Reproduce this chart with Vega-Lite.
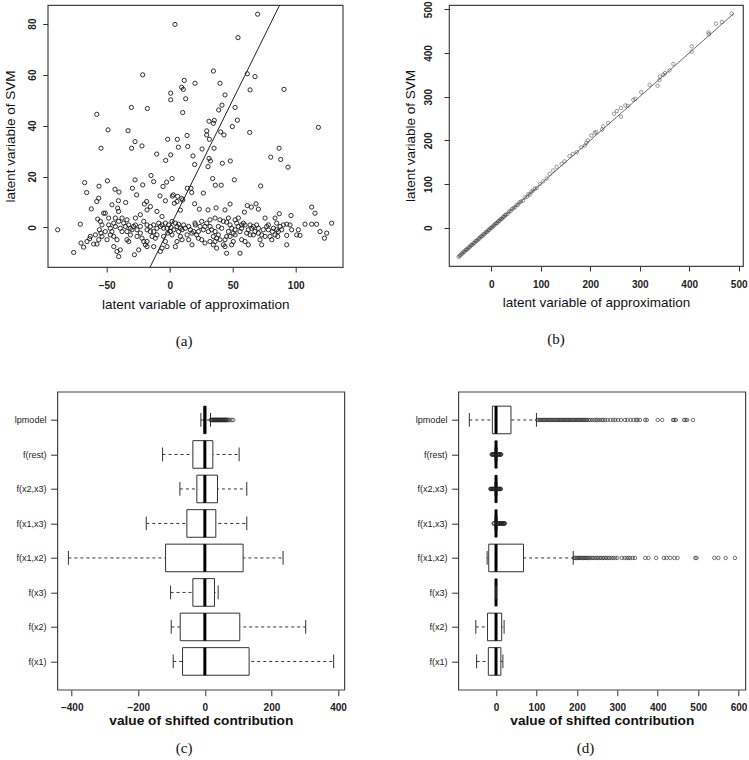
{
 "$schema": "https://vega.github.io/schema/vega-lite/v6.json",
 "autosize": {"type": "none"},
 "padding": {"left": 47.7, "top": 5, "right": 701.3, "bottom": 755},
 "background": "white",
 "config": {
  "font": "Liberation Sans",
  "view": {"stroke": "#444", "strokeWidth": 1.2},
  "axis": {"grid": false, "domain": false, "tickColor": "#333", "labelColor": "#222", "titleColor": "#111", "labelFontWeight": "bold", "labelFontSize": 10, "tickSize": 5},
  "title": {"font": "Liberation Serif", "fontSize": 15, "fontWeight": "normal", "orient": "bottom", "color": "#111", "anchor": "middle", "baseline": "alphabetic"}
 },
 "datasets": {
  "a": [
   {"x":4.2,"y":79.7},{"x":69.8,"y":83.7},{"x":54.2,"y":74.5},{"x":34.7,"y":61.4},{"x":-21.4,"y":59.9},{"x":11.6,"y":57.7},{"x":20.1,"y":56.6},{"x":61.6,"y":60.3},{"x":67.7,"y":59.2},{"x":63.8,"y":54},{"x":39.9,"y":56.6},{"x":9.5,"y":55},{"x":10.8,"y":54.2},{"x":0.8,"y":52.7},{"x":0.8,"y":50.1},{"x":12.7,"y":50.5},{"x":90.7,"y":54.2},{"x":-57.9,"y":44.4},{"x":-30.4,"y":47.1},{"x":-17.7,"y":46.7},{"x":10.3,"y":45.1},{"x":43.9,"y":52},{"x":41.5,"y":48},{"x":51.9,"y":47.1},{"x":38.9,"y":46.1},{"x":53.7,"y":42.1},{"x":31.2,"y":41.7},{"x":35.4,"y":42},{"x":34.7,"y":40.9},{"x":49.7,"y":39.6},{"x":118,"y":39.3},{"x":-48.9,"y":38.3},{"x":-33,"y":38},{"x":40.5,"y":37.5},{"x":29.4,"y":37.9},{"x":29.4,"y":36.3},{"x":63.5,"y":37.3},{"x":43.1,"y":36.3},{"x":13.8,"y":36.1},{"x":6.1,"y":34.6},{"x":-1.6,"y":34.6},{"x":-27.5,"y":33.7},{"x":31.5,"y":34.6},{"x":-54.5,"y":31.1},{"x":-30.2,"y":31.1},{"x":-22,"y":32},{"x":6.9,"y":31.5},{"x":14.3,"y":31.8},{"x":25.7,"y":30.8},{"x":35.2,"y":31.1},{"x":86.8,"y":31.1},{"x":-10.3,"y":28.8},{"x":0.8,"y":28.5},{"x":18.5,"y":28.1},{"x":80.2,"y":27.6},{"x":88.1,"y":26.7},{"x":31.2,"y":27.1},{"x":32.3,"y":26.1},{"x":-3.2,"y":26.3},{"x":48.1,"y":26.1},{"x":19.8,"y":24.7},{"x":41.8,"y":25.2},{"x":30.4,"y":23.9},{"x":93.9,"y":23.7},{"x":1.9,"y":19.2},{"x":51.3,"y":18.7},{"x":34.1,"y":19.2},{"x":36.2,"y":16.6},{"x":40.9,"y":16.6},{"x":-14.8,"y":20.4},{"x":-12.7,"y":18},{"x":-49.4,"y":18.3},{"x":-21.4,"y":16.7},{"x":-27.5,"y":18.7},{"x":-56.1,"y":16.2},{"x":-67.5,"y":17.6},{"x":-65.9,"y":13.7},{"x":14,"y":15.4},{"x":16.9,"y":15.4},{"x":17.5,"y":13.7},{"x":26.7,"y":13.5},{"x":72.2,"y":16.3},{"x":-43.4,"y":15},{"x":-40.2,"y":13.9},{"x":-29.6,"y":15.4},{"x":-26.2,"y":12.8},{"x":-5.3,"y":16.1},{"x":-2.4,"y":17.8},{"x":-7.7,"y":12.4},{"x":2.1,"y":12.3},{"x":2.9,"y":12.8},{"x":3.7,"y":9.5},{"x":6.3,"y":12.2},{"x":9.5,"y":11.4},{"x":10.3,"y":10.8},{"x":19.8,"y":9.3},{"x":-45.8,"y":8.9},{"x":-40.7,"y":10.5},{"x":-34.9,"y":9.8},{"x":-57.9,"y":10.2},{"x":-56.3,"y":11.5},{"x":-62.2,"y":7.3},{"x":-18.3,"y":10.2},{"x":-20.1,"y":9.2},{"x":61.6,"y":8.6},{"x":68.5,"y":9.3},{"x":70.4,"y":7.2},{"x":64.8,"y":8},{"x":112.7,"y":8},{"x":36.8,"y":7.7},{"x":23.5,"y":7.2},{"x":30.4,"y":6.9},{"x":8.5,"y":6.8},{"x":-41.3,"y":7.6},{"x":-15.3,"y":8.2},{"x":-18,"y":6.9},{"x":-3.4,"y":10.5},{"x":5.8,"y":10.2},{"x":43.9,"y":6.9},{"x":47.9,"y":9.2},
   {"x":-88.9,"y":-0.9},{"x":-76.2,"y":-9.8},{"x":-70.9,"y":1.3},{"x":-70.4,"y":-6.1},{"x":-68.3,"y":-7.7},{"x":-63.5,"y":-4.4},{"x":-60.3,"y":-6.5},{"x":-57.7,"y":-6.5},{"x":-56.3,"y":-4.8},{"x":-57.1,"y":3.3},{"x":-55,"y":2.4},{"x":-55.8,"y":-0.9},{"x":-53.7,"y":-3.5},{"x":-54.5,"y":-2.2},{"x":-52.4,"y":5.6},{"x":-51.1,"y":5.6},{"x":-53.7,"y":1},{"x":-48.4,"y":1},{"x":-47.1,"y":-0.3},{"x":-45.8,"y":-1.6},{"x":-47.1,"y":-2.9},{"x":-44.4,"y":-3.5},{"x":-41.8,"y":-4.8},{"x":-44.4,"y":1.7},{"x":-43.1,"y":3.7},{"x":-40.5,"y":2.4},{"x":-39.2,"y":-0.3},{"x":-37.8,"y":-1.6},{"x":-37.8,"y":3.7},{"x":-36.5,"y":1.7},{"x":-33.9,"y":3},{"x":-32.5,"y":1},{"x":-33.9,"y":-1.6},{"x":-31.2,"y":-2.9},{"x":-32.5,"y":-5.5},{"x":-29.9,"y":-0.9},{"x":-28.6,"y":0.4},{"x":-27.2,"y":1},{"x":-25.9,"y":-0.9},{"x":-25.9,"y":-3.5},{"x":-23.3,"y":-2.2},{"x":-22,"y":-4.2},{"x":-20.6,"y":-5.5},{"x":-19.3,"y":-6.8},{"x":-18,"y":-7.5},{"x":-20.6,"y":2.4},{"x":-18,"y":1},{"x":-15.3,"y":0.4},{"x":-12.7,"y":-1.6},{"x":-14,"y":-3.5},{"x":-11.4,"y":-4.2},{"x":-10.1,"y":-2.9},{"x":-7.4,"y":0.4},{"x":-6.1,"y":1},{"x":-3.4,"y":1.7},{"x":-2.1,"y":-0.3},{"x":0.5,"y":-1.6},{"x":1.9,"y":-2.9},{"x":3.2,"y":-0.9},{"x":5.8,"y":0.4},{"x":7.1,"y":-1.6},{"x":8.5,"y":-3.5},{"x":9.8,"y":-4.8},{"x":12.4,"y":-0.3},{"x":13.8,"y":-2.9},{"x":16.4,"y":-0.9},{"x":19,"y":-1.6},{"x":20.4,"y":1},{"x":-44.4,"y":-7.5},{"x":-41.8,"y":-9.4},{"x":-40.5,"y":-11.4},{"x":-39.2,"y":-8.8},{"x":-28,"y":-10.7},{"x":-24.6,"y":-8.8},{"x":-33.9,"y":-4.8},{"x":-6.1,"y":4.3},{"x":-10.1,"y":6.3},{"x":-7.4,"y":-9.4},{"x":-12.7,"y":-7.5},{"x":-6.1,"y":-8.1},{"x":-18,"y":-5.5},{"x":-48.4,"y":3.7},{"x":-51.1,"y":-1.6},{"x":-49.7,"y":-4.8},{"x":-4.8,"y":-3.5},{"x":-3.4,"y":-5.5},{"x":-0.8,"y":1},{"x":1.9,"y":2.4},{"x":4.5,"y":1.7},{"x":8.5,"y":-0.3},{"x":11.1,"y":1},{"x":-8.7,"y":1.7},{"x":-12.7,"y":1},{"x":-15.3,"y":-1.6},{"x":-23.3,"y":0.4},{"x":-31.2,"y":-0.3},{"x":-35.2,"y":0.4},{"x":-43.1,"y":0.4},{"x":-63,"y":-3.5},{"x":-59,"y":-2.9},{"x":-65.6,"y":-5.5},{"x":-27.2,"y":3.7},{"x":-23.3,"y":5},{"x":-40.5,"y":6.3},{"x":5.8,"y":-5.5},{"x":15.1,"y":-4.8},{"x":17.7,"y":-6.8},{"x":-2.1,"y":-7.5},{"x":17.7,"y":-2.2},{"x":4.5,"y":-7.5},{"x":-4.8,"y":-0.3},{"x":-1.6,"y":-2.2},{"x":1.1,"y":0},{"x":7.1,"y":1.3},{"x":9.8,"y":-0.9},{"x":15.1,"y":0.4},{"x":-10.1,"y":-0.3},{"x":-18,"y":-0.9},
   {"x":59.3,"y":6},{"x":115.3,"y":5.6},{"x":87,"y":5.4},{"x":83.6,"y":3.7},{"x":75.7,"y":3.7},{"x":96.3,"y":4.7},{"x":128.5,"y":1.7},{"x":119.3,"y":-1.6},{"x":124.6,"y":-2.2},{"x":122.8,"y":-4.2},{"x":116.6,"y":1.3},{"x":112.7,"y":1.3},{"x":107.4,"y":1.3},{"x":102.1,"y":-0.9},{"x":103.4,"y":-3.1},{"x":100.8,"y":-2.9},{"x":96.8,"y":-0.9},{"x":95.5,"y":1},{"x":92.9,"y":-3.1},{"x":92.9,"y":-6.8},{"x":92.9,"y":1.3},{"x":87.6,"y":0.4},{"x":86.2,"y":-1.6},{"x":85.7,"y":-3.5},{"x":83.6,"y":-2.9},{"x":81.5,"y":-1.6},{"x":79.6,"y":-3.5},{"x":78.3,"y":-0.9},{"x":77,"y":0.4},{"x":74.3,"y":-0.9},{"x":73,"y":-2.9},{"x":71.7,"y":-4.8},{"x":70.4,"y":-0.3},{"x":69,"y":1},{"x":67.7,"y":-1.6},{"x":66.4,"y":-2.9},{"x":65.1,"y":-0.3},{"x":63.8,"y":1},{"x":62.4,"y":-0.9},{"x":61.1,"y":-2.2},{"x":59.8,"y":1},{"x":58.5,"y":1.7},{"x":57.1,"y":-0.3},{"x":55.8,"y":-1.6},{"x":54.5,"y":0.4},{"x":53.2,"y":1.7},{"x":51.9,"y":-0.9},{"x":50.5,"y":-2.2},{"x":49.2,"y":-0.3},{"x":47.9,"y":1},{"x":46.6,"y":-1.6},{"x":45.2,"y":-3.5},{"x":43.9,"y":-4.8},{"x":42.6,"y":-6.8},{"x":43.9,"y":-7.5},{"x":45.2,"y":-10.1},{"x":49.2,"y":-6.8},{"x":50.5,"y":-5.5},{"x":51.9,"y":-2.9},{"x":55.8,"y":-10.1},{"x":57.1,"y":-4.8},{"x":59.8,"y":-5.5},{"x":63.8,"y":-2.9},{"x":39.9,"y":-4.8},{"x":38.6,"y":-2.9},{"x":37.3,"y":-4.2},{"x":36,"y":-5.5},{"x":36,"y":-1.6},{"x":34.6,"y":-3.5},{"x":33.3,"y":-0.9},{"x":32,"y":0.4},{"x":30.7,"y":-1.6},{"x":29.4,"y":1.7},{"x":28,"y":0.4},{"x":26.7,"y":-0.9},{"x":25.4,"y":2.4},{"x":24.1,"y":0.4},{"x":22.8,"y":-1.6},{"x":21.4,"y":-2.9},{"x":20.1,"y":1.7},{"x":32,"y":3},{"x":36,"y":3.7},{"x":39.9,"y":3},{"x":42.6,"y":2.4},{"x":45.2,"y":2.1},{"x":46.6,"y":3.7},{"x":51.9,"y":3},{"x":54.5,"y":3.7},{"x":75.7,"y":-3.5},{"x":81,"y":-4.8},{"x":82.3,"y":-0.3},{"x":84.9,"y":1.7},{"x":88.9,"y":-0.9},{"x":90.2,"y":1},{"x":73,"y":-6.8},{"x":62.4,"y":-6.8},{"x":25.4,"y":-4.8},{"x":28,"y":-6.1},{"x":22.8,"y":-4.2},{"x":34.6,"y":-6.8},{"x":37.3,"y":-8.1},{"x":32,"y":-5.5},{"x":38.6,"y":0.4},{"x":41.3,"y":-0.3},{"x":47.9,"y":-3.5},{"x":57.1,"y":1},{"x":66.4,"y":0.4},{"x":70.4,"y":-2.2},{"x":78.3,"y":1},{"x":84.9,"y":-0.9}
  ],
  "b": [
   {"x":-66,"y":-67},{"x":-64,"y":-64},{"x":-62,"y":-63},{"x":-60,"y":-59},{"x":-58,"y":-59},{"x":-56,"y":-55},{"x":-54,"y":-55},{"x":-52,"y":-51},{"x":-50,"y":-50},{"x":-48,"y":-49},{"x":-46,"y":-45},{"x":-44,"y":-45},{"x":-42,"y":-41},{"x":-40,"y":-40},{"x":-38,"y":-39},{"x":-36,"y":-35},{"x":-34,"y":-35},{"x":-32,"y":-31},{"x":-30,"y":-30},{"x":-28,"y":-29},{"x":-26,"y":-25},{"x":-24,"y":-25},{"x":-22,"y":-21},{"x":-20,"y":-20},{"x":-18,"y":-19},{"x":-16,"y":-15},{"x":-14,"y":-15},{"x":-12,"y":-11},{"x":-10,"y":-10},{"x":-8,"y":-9},{"x":-6,"y":-5},{"x":-4,"y":-5},{"x":-2,"y":-1},{"x":0,"y":0},{"x":2,"y":1},{"x":4,"y":5},{"x":6,"y":5},{"x":8,"y":9},{"x":10,"y":10},{"x":12,"y":11},{"x":14,"y":15},{"x":16,"y":15},{"x":18,"y":19},{"x":20,"y":20},{"x":22,"y":21},{"x":24,"y":25},{"x":26,"y":25},{"x":28,"y":29},{"x":30,"y":30},{"x":33,"y":32},{"x":36,"y":37},{"x":39,"y":38},{"x":42,"y":43},{"x":45,"y":45},{"x":48,"y":47},{"x":51,"y":52},{"x":54,"y":53},{"x":57,"y":58},{"x":60,"y":60},{"x":64,"y":62},{"x":68,"y":69},{"x":72,"y":71},{"x":75,"y":77},{"x":78,"y":76},{"x":81,"y":82},{"x":84,"y":85},{"x":88,"y":89},{"x":92,"y":91},{"x":98,"y":100},{"x":105,"y":106},{"x":112,"y":113},{"x":118,"y":123},{"x":125,"y":131},{"x":132,"y":139},{"x":142,"y":146},{"x":148,"y":152},{"x":158,"y":164},{"x":165,"y":169},{"x":173,"y":173},{"x":182,"y":184},{"x":189,"y":188},{"x":192,"y":194},{"x":195,"y":200},{"x":202,"y":211},{"x":209,"y":217},{"x":212,"y":219},{"x":224,"y":225},{"x":226,"y":232},{"x":236,"y":240},{"x":248,"y":261},{"x":254,"y":267},{"x":262,"y":274},{"x":262,"y":254},{"x":271,"y":280},{"x":276,"y":279},{"x":287,"y":293},{"x":291,"y":295},{"x":303,"y":310},{"x":320,"y":327},{"x":336,"y":325},{"x":340,"y":338},{"x":341,"y":346},{"x":348,"y":350},{"x":351,"y":354},{"x":360,"y":360},{"x":368,"y":375},{"x":405,"y":415},{"x":405,"y":403},{"x":439,"y":447},{"x":440,"y":443},{"x":454,"y":467},{"x":466,"y":471},{"x":486,"y":490}
  ],
  "cbox": [
   {"cat":"lpmodel","lo":-12,"q1":-2,"med":0,"q3":3,"hi":17},
   {"cat":"f(rest)","lo":-127,"q1":-36,"med":0,"q3":24,"hi":103},
   {"cat":"f(x2,x3)","lo":-75,"q1":-24,"med":0,"q3":38,"hi":126},
   {"cat":"f(x1,x3)","lo":-176,"q1":-54,"med":0,"q3":33,"hi":126},
   {"cat":"f(x1,x2)","lo":-410,"q1":-118,"med":0,"q3":115,"hi":235},
   {"cat":"f(x3)","lo":-103,"q1":-36,"med":0,"q3":29,"hi":40},
   {"cat":"f(x2)","lo":-101,"q1":-74,"med":0,"q3":105,"hi":303},
   {"cat":"f(x1)","lo":-95,"q1":-67,"med":0,"q3":133,"hi":387}
  ],
  "cout": [
   {"cat":"lpmodel","v":18},{"cat":"lpmodel","v":20},{"cat":"lpmodel","v":22},{"cat":"lpmodel","v":24},{"cat":"lpmodel","v":26},{"cat":"lpmodel","v":28},{"cat":"lpmodel","v":30},{"cat":"lpmodel","v":32},{"cat":"lpmodel","v":34},{"cat":"lpmodel","v":36},{"cat":"lpmodel","v":38},{"cat":"lpmodel","v":40},{"cat":"lpmodel","v":42},{"cat":"lpmodel","v":44},{"cat":"lpmodel","v":46},{"cat":"lpmodel","v":48},{"cat":"lpmodel","v":50},{"cat":"lpmodel","v":52},{"cat":"lpmodel","v":54},{"cat":"lpmodel","v":56},{"cat":"lpmodel","v":58},{"cat":"lpmodel","v":60},{"cat":"lpmodel","v":62},{"cat":"lpmodel","v":64},{"cat":"lpmodel","v":66},{"cat":"lpmodel","v":70},{"cat":"lpmodel","v":73},{"cat":"lpmodel","v":80},{"cat":"lpmodel","v":85}
  ],
  "dbox": [
   {"cat":"lpmodel","lo":-66,"q1":-9,"med":0,"q3":37,"hi":100},
   {"cat":"f(rest)","lo":-3,"q1":-1,"med":0,"q3":1,"hi":3},
   {"cat":"f(x2,x3)","lo":-3,"q1":-1,"med":0,"q3":1,"hi":3},
   {"cat":"f(x1,x3)","lo":-3,"q1":-1,"med":0,"q3":1,"hi":3},
   {"cat":"f(x1,x2)","lo":-22,"q1":-18,"med":0,"q3":68,"hi":191},
   {"cat":"f(x3)","lo":0,"q1":0,"med":0,"q3":0,"hi":0},
   {"cat":"f(x2)","lo":-50,"q1":-21,"med":0,"q3":14,"hi":20},
   {"cat":"f(x1)","lo":-48,"q1":-19,"med":0,"q3":12,"hi":17}
  ],
  "dout": [
   {"cat":"lpmodel","v":102},{"cat":"lpmodel","v":105},{"cat":"lpmodel","v":108},{"cat":"lpmodel","v":111},{"cat":"lpmodel","v":114},{"cat":"lpmodel","v":117},{"cat":"lpmodel","v":120},{"cat":"lpmodel","v":123},{"cat":"lpmodel","v":126},{"cat":"lpmodel","v":129},{"cat":"lpmodel","v":132},{"cat":"lpmodel","v":135},{"cat":"lpmodel","v":138},{"cat":"lpmodel","v":141},{"cat":"lpmodel","v":144},{"cat":"lpmodel","v":147},{"cat":"lpmodel","v":150},{"cat":"lpmodel","v":153},{"cat":"lpmodel","v":156},{"cat":"lpmodel","v":159},{"cat":"lpmodel","v":162},{"cat":"lpmodel","v":165},{"cat":"lpmodel","v":168},{"cat":"lpmodel","v":171},{"cat":"lpmodel","v":174},{"cat":"lpmodel","v":177},{"cat":"lpmodel","v":180},{"cat":"lpmodel","v":183},{"cat":"lpmodel","v":186},{"cat":"lpmodel","v":189},{"cat":"lpmodel","v":192},{"cat":"lpmodel","v":195},{"cat":"lpmodel","v":198},{"cat":"lpmodel","v":201},{"cat":"lpmodel","v":204},{"cat":"lpmodel","v":207},{"cat":"lpmodel","v":210},{"cat":"lpmodel","v":213},{"cat":"lpmodel","v":216},{"cat":"lpmodel","v":219},{"cat":"lpmodel","v":222},{"cat":"lpmodel","v":225},{"cat":"lpmodel","v":229},{"cat":"lpmodel","v":233},{"cat":"lpmodel","v":238},{"cat":"lpmodel","v":243},{"cat":"lpmodel","v":248},{"cat":"lpmodel","v":252},{"cat":"lpmodel","v":256},{"cat":"lpmodel","v":261},{"cat":"lpmodel","v":265},{"cat":"lpmodel","v":270},{"cat":"lpmodel","v":276},{"cat":"lpmodel","v":283},{"cat":"lpmodel","v":290},{"cat":"lpmodel","v":295},{"cat":"lpmodel","v":302},{"cat":"lpmodel","v":309},{"cat":"lpmodel","v":319},{"cat":"lpmodel","v":325},{"cat":"lpmodel","v":333},{"cat":"lpmodel","v":340},{"cat":"lpmodel","v":347},{"cat":"lpmodel","v":350},{"cat":"lpmodel","v":356},{"cat":"lpmodel","v":369},{"cat":"lpmodel","v":373},{"cat":"lpmodel","v":400},{"cat":"lpmodel","v":411},{"cat":"lpmodel","v":438},{"cat":"lpmodel","v":441},{"cat":"lpmodel","v":445},{"cat":"lpmodel","v":465},{"cat":"lpmodel","v":469},{"cat":"lpmodel","v":473},{"cat":"lpmodel","v":487},
   {"cat":"f(x1,x2)","v":193},{"cat":"f(x1,x2)","v":196},{"cat":"f(x1,x2)","v":199},{"cat":"f(x1,x2)","v":202},{"cat":"f(x1,x2)","v":205},{"cat":"f(x1,x2)","v":208},{"cat":"f(x1,x2)","v":211},{"cat":"f(x1,x2)","v":214},{"cat":"f(x1,x2)","v":217},{"cat":"f(x1,x2)","v":220},{"cat":"f(x1,x2)","v":223},{"cat":"f(x1,x2)","v":226},{"cat":"f(x1,x2)","v":229},{"cat":"f(x1,x2)","v":232},{"cat":"f(x1,x2)","v":236},{"cat":"f(x1,x2)","v":240},{"cat":"f(x1,x2)","v":244},{"cat":"f(x1,x2)","v":248},{"cat":"f(x1,x2)","v":252},{"cat":"f(x1,x2)","v":256},{"cat":"f(x1,x2)","v":260},{"cat":"f(x1,x2)","v":264},{"cat":"f(x1,x2)","v":268},{"cat":"f(x1,x2)","v":272},{"cat":"f(x1,x2)","v":276},{"cat":"f(x1,x2)","v":280},{"cat":"f(x1,x2)","v":285},{"cat":"f(x1,x2)","v":290},{"cat":"f(x1,x2)","v":295},{"cat":"f(x1,x2)","v":300},{"cat":"f(x1,x2)","v":311},{"cat":"f(x1,x2)","v":318},{"cat":"f(x1,x2)","v":323},{"cat":"f(x1,x2)","v":328},{"cat":"f(x1,x2)","v":332},{"cat":"f(x1,x2)","v":338},{"cat":"f(x1,x2)","v":344},{"cat":"f(x1,x2)","v":369},{"cat":"f(x1,x2)","v":377},{"cat":"f(x1,x2)","v":396},{"cat":"f(x1,x2)","v":415},{"cat":"f(x1,x2)","v":422},{"cat":"f(x1,x2)","v":431},{"cat":"f(x1,x2)","v":441},{"cat":"f(x1,x2)","v":449},{"cat":"f(x1,x2)","v":493},{"cat":"f(x1,x2)","v":496},{"cat":"f(x1,x2)","v":540},{"cat":"f(x1,x2)","v":550},{"cat":"f(x1,x2)","v":568},{"cat":"f(x1,x2)","v":591},
   {"cat":"f(rest)","v":-11},{"cat":"f(rest)","v":-10},{"cat":"f(rest)","v":-9},{"cat":"f(rest)","v":-8},{"cat":"f(rest)","v":-7},{"cat":"f(rest)","v":-6},{"cat":"f(rest)","v":-5},{"cat":"f(rest)","v":-4},{"cat":"f(rest)","v":4},{"cat":"f(rest)","v":5},{"cat":"f(rest)","v":6},{"cat":"f(rest)","v":7},{"cat":"f(rest)","v":8},{"cat":"f(rest)","v":9},{"cat":"f(rest)","v":10},{"cat":"f(rest)","v":11},{"cat":"f(rest)","v":12},{"cat":"f(rest)","v":13},
   {"cat":"f(x2,x3)","v":-14},{"cat":"f(x2,x3)","v":-13},{"cat":"f(x2,x3)","v":-12},{"cat":"f(x2,x3)","v":-11},{"cat":"f(x2,x3)","v":-10},{"cat":"f(x2,x3)","v":-9},{"cat":"f(x2,x3)","v":-8},{"cat":"f(x2,x3)","v":-7},{"cat":"f(x2,x3)","v":-6},{"cat":"f(x2,x3)","v":-5},{"cat":"f(x2,x3)","v":-4},{"cat":"f(x2,x3)","v":4},{"cat":"f(x2,x3)","v":5},{"cat":"f(x2,x3)","v":6},{"cat":"f(x2,x3)","v":7},{"cat":"f(x2,x3)","v":8},{"cat":"f(x2,x3)","v":9},{"cat":"f(x2,x3)","v":10},{"cat":"f(x2,x3)","v":11},{"cat":"f(x2,x3)","v":12},
   {"cat":"f(x1,x3)","v":-6},{"cat":"f(x1,x3)","v":-5},{"cat":"f(x1,x3)","v":-4},{"cat":"f(x1,x3)","v":4},{"cat":"f(x1,x3)","v":5},{"cat":"f(x1,x3)","v":6},{"cat":"f(x1,x3)","v":7},{"cat":"f(x1,x3)","v":8},{"cat":"f(x1,x3)","v":9},{"cat":"f(x1,x3)","v":10},{"cat":"f(x1,x3)","v":11},{"cat":"f(x1,x3)","v":12},{"cat":"f(x1,x3)","v":13},{"cat":"f(x1,x3)","v":14},{"cat":"f(x1,x3)","v":15},{"cat":"f(x1,x3)","v":16},{"cat":"f(x1,x3)","v":17},{"cat":"f(x1,x3)","v":18},{"cat":"f(x1,x3)","v":19},{"cat":"f(x1,x3)","v":20},{"cat":"f(x1,x3)","v":21},{"cat":"f(x1,x3)","v":22}
  ]
 },
 "spacing": 386.7,
 "bounds": "flush",
 "vconcat": [
  {
   "spacing": 106.3,
   "bounds": "flush",
   "hconcat": [
    {
     "width": 295, "height": 262,
     "title": {"text": "(a)", "dx": -11, "offset": 23},
     "layer": [
      {
       "data": {"name": "a"},
       "mark": {"type": "point", "shape": "circle", "filled": false, "size": 18, "stroke": "#1a1a1a", "strokeWidth": 0.9, "opacity": 1},
       "encoding": {
        "x": {"field": "x", "type": "quantitative", "scale": {"domain": [-96.8, 137.3], "nice": false, "zero": false},
              "axis": {"values": [-50, 0, 50, 100], "labelBaseline": "alphabetic", "labelPadding": 16, "title": "latent variable of approximation", "titleFontSize": 13.5, "titleFontWeight": "normal", "titleBaseline": "alphabetic", "titleY": 41}},
        "y": {"field": "y", "type": "quantitative", "scale": {"domain": [-15.5, 87.3], "nice": false, "zero": false},
              "axis": {"values": [0, 20, 40, 60, 80], "labelAngle": 270, "labelAlign": "center", "labelBaseline": "alphabetic", "labelPadding": 7.7, "title": "latent variable of SVM", "titleFontSize": 13.5, "titleFontWeight": "normal", "titleAngle": 270, "titleAlign": "center", "titleBaseline": "alphabetic", "titleX": -33.7, "titleY": 131}}
       }
      },
      {
       "data": {"values": [{"x": -20, "y": -20}, {"x": 100, "y": 100}]},
       "mark": {"type": "line", "clip": true, "color": "#222", "strokeWidth": 1},
       "encoding": {"x": {"field": "x", "type": "quantitative"}, "y": {"field": "y", "type": "quantitative"}}
      }
     ]
    },
    {
     "width": 294, "height": 261,
     "title": {"text": "(b)", "dx": -40, "offset": 23},
     "layer": [
      {
       "data": {"name": "b"},
       "mark": {"type": "point", "shape": "circle", "filled": false, "size": 12, "stroke": "#333", "strokeWidth": 0.7},
       "encoding": {
        "x": {"field": "x", "type": "quantitative", "scale": {"domain": [-85.5, 508.7], "nice": false, "zero": false},
              "axis": {"values": [0, 100, 200, 300, 400, 500], "labelBaseline": "alphabetic", "labelPadding": 16, "title": "latent variable of approximation", "titleFontSize": 13.5, "titleFontWeight": "normal", "titleBaseline": "alphabetic", "titleY": 40}},
        "y": {"field": "y", "type": "quantitative", "scale": {"domain": [-87.6, 509.8], "nice": false, "zero": false},
              "axis": {"values": [0, 100, 200, 300, 400, 500], "labelAngle": 270, "labelAlign": "center", "labelBaseline": "alphabetic", "labelPadding": 12.3, "title": "latent variable of SVM", "titleFontSize": 13.5, "titleFontWeight": "normal", "titleAngle": 270, "titleAlign": "center", "titleBaseline": "alphabetic", "titleX": -34.7, "titleY": 130.5}}
       }
      },
      {
       "data": {"values": [{"x": -66, "y": -66}, {"x": 490, "y": 490}]},
       "mark": {"type": "line", "clip": true, "color": "#444", "strokeWidth": 0.8},
       "encoding": {"x": {"field": "x", "type": "quantitative"}, "y": {"field": "y", "type": "quantitative"}}
      }
     ]
    }
   ]
  },
  {
   "spacing": 8.6,
   "bounds": "flush",
   "hconcat": [
    {
     "width": 1, "height": 1,
     "view": {"stroke": null, "fill": null},
     "data": {"values": [{"k": 0}]},
     "mark": {"type": "point", "opacity": 0},
     "encoding": {}
    },
    {
     "spacing": 114,
     "bounds": "flush",
     "hconcat": [
      {
       "width": 287, "height": 298,
       "title": {"text": "(c)", "dx": -16.7, "offset": 14},
       "layer": [
        {
         "data": {"name": "cbox"},
         "mark": {"type": "rule", "color": "#333", "strokeWidth": 1, "strokeDash": [3, 3]},
         "encoding": {
          "y": {"field": "cat", "type": "nominal", "scale": {"type": "point", "padding": 0.819, "domain": ["lpmodel", "f(rest)", "f(x2,x3)", "f(x1,x3)", "f(x1,x2)", "f(x3)", "f(x2)", "f(x1)"]},
                "axis": {"title": null, "labelFontWeight": "normal", "labelFontSize": 9, "tickSize": 6.7, "labelPadding": 4.7, "labelBaseline": "middle", "labelAlign": "right"}},
          "x": {"field": "lo", "type": "quantitative", "scale": {"domain": [-443.3, 419], "nice": false, "zero": false},
                "axis": {"values": [-400, -200, 0, 200, 400], "tickSize": 6, "labelBaseline": "alphabetic", "labelPadding": 14.7, "title": "value of shifted contribution", "titleFontSize": 13.7, "titleFontWeight": "bold", "titleBaseline": "alphabetic", "titleY": 35}},
          "x2": {"field": "hi"}
         }
        },
        {
         "data": {"name": "cbox"},
         "mark": {"type": "bar", "size": 27.6, "fill": "white", "stroke": "#333", "strokeWidth": 1},
         "encoding": {"y": {"field": "cat", "type": "nominal"}, "x": {"field": "q1", "type": "quantitative"}, "x2": {"field": "q3"}}
        },
        {
         "data": {"name": "cbox"},
         "mark": {"type": "tick", "size": 27.6, "thickness": 3, "color": "#000", "opacity": 1},
         "encoding": {"y": {"field": "cat", "type": "nominal"}, "x": {"field": "med", "type": "quantitative"}}
        },
        {
         "data": {"name": "cbox"},
         "mark": {"type": "tick", "size": 13.8, "thickness": 1, "color": "#333", "opacity": 1},
         "encoding": {"y": {"field": "cat", "type": "nominal"}, "x": {"field": "lo", "type": "quantitative"}}
        },
        {
         "data": {"name": "cbox"},
         "mark": {"type": "tick", "size": 13.8, "thickness": 1, "color": "#333", "opacity": 1},
         "encoding": {"y": {"field": "cat", "type": "nominal"}, "x": {"field": "hi", "type": "quantitative"}}
        },
        {
         "data": {"name": "cout"},
         "mark": {"type": "point", "shape": "circle", "filled": false, "size": 14, "stroke": "#222", "strokeWidth": 0.9},
         "encoding": {"y": {"field": "cat", "type": "nominal"}, "x": {"field": "v", "type": "quantitative"}}
        }
       ]
      },
      {
       "width": 287, "height": 298,
       "title": {"text": "(d)", "dx": -16.4, "offset": 14},
       "layer": [
        {
         "data": {"name": "dbox"},
         "mark": {"type": "rule", "color": "#333", "strokeWidth": 1, "strokeDash": [3, 3]},
         "encoding": {
          "y": {"field": "cat", "type": "nominal", "scale": {"type": "point", "padding": 0.819, "domain": ["lpmodel", "f(rest)", "f(x2,x3)", "f(x1,x3)", "f(x1,x2)", "f(x3)", "f(x2)", "f(x1)"]},
                "axis": {"title": null, "labelFontWeight": "normal", "labelFontSize": 9, "tickSize": 6.7, "labelPadding": 4.7, "labelBaseline": "middle", "labelAlign": "right"}},
          "x": {"field": "lo", "type": "quantitative", "scale": {"domain": [-93.3, 616.6], "nice": false, "zero": false},
                "axis": {"values": [0, 100, 200, 300, 400, 500, 600], "tickSize": 6, "labelBaseline": "alphabetic", "labelPadding": 14.7, "title": "value of shifted contribution", "titleFontSize": 13.7, "titleFontWeight": "bold", "titleBaseline": "alphabetic", "titleY": 35}},
          "x2": {"field": "hi"}
         }
        },
        {
         "data": {"name": "dbox"},
         "mark": {"type": "bar", "size": 27.6, "fill": "white", "stroke": "#333", "strokeWidth": 1},
         "encoding": {"y": {"field": "cat", "type": "nominal"}, "x": {"field": "q1", "type": "quantitative"}, "x2": {"field": "q3"}}
        },
        {
         "data": {"name": "dbox"},
         "mark": {"type": "tick", "size": 27.6, "thickness": 3, "color": "#000", "opacity": 1},
         "encoding": {"y": {"field": "cat", "type": "nominal"}, "x": {"field": "med", "type": "quantitative"}}
        },
        {
         "data": {"name": "dbox"},
         "mark": {"type": "tick", "size": 13.8, "thickness": 1, "color": "#333", "opacity": 1},
         "encoding": {"y": {"field": "cat", "type": "nominal"}, "x": {"field": "lo", "type": "quantitative"}}
        },
        {
         "data": {"name": "dbox"},
         "mark": {"type": "tick", "size": 13.8, "thickness": 1, "color": "#333", "opacity": 1},
         "encoding": {"y": {"field": "cat", "type": "nominal"}, "x": {"field": "hi", "type": "quantitative"}}
        },
        {
         "data": {"name": "dout"},
         "mark": {"type": "point", "shape": "circle", "filled": false, "size": 12, "stroke": "#222", "strokeWidth": 0.9},
         "encoding": {"y": {"field": "cat", "type": "nominal"}, "x": {"field": "v", "type": "quantitative"}}
        }
       ]
      }
     ]
    }
   ]
  }
 ]
}
